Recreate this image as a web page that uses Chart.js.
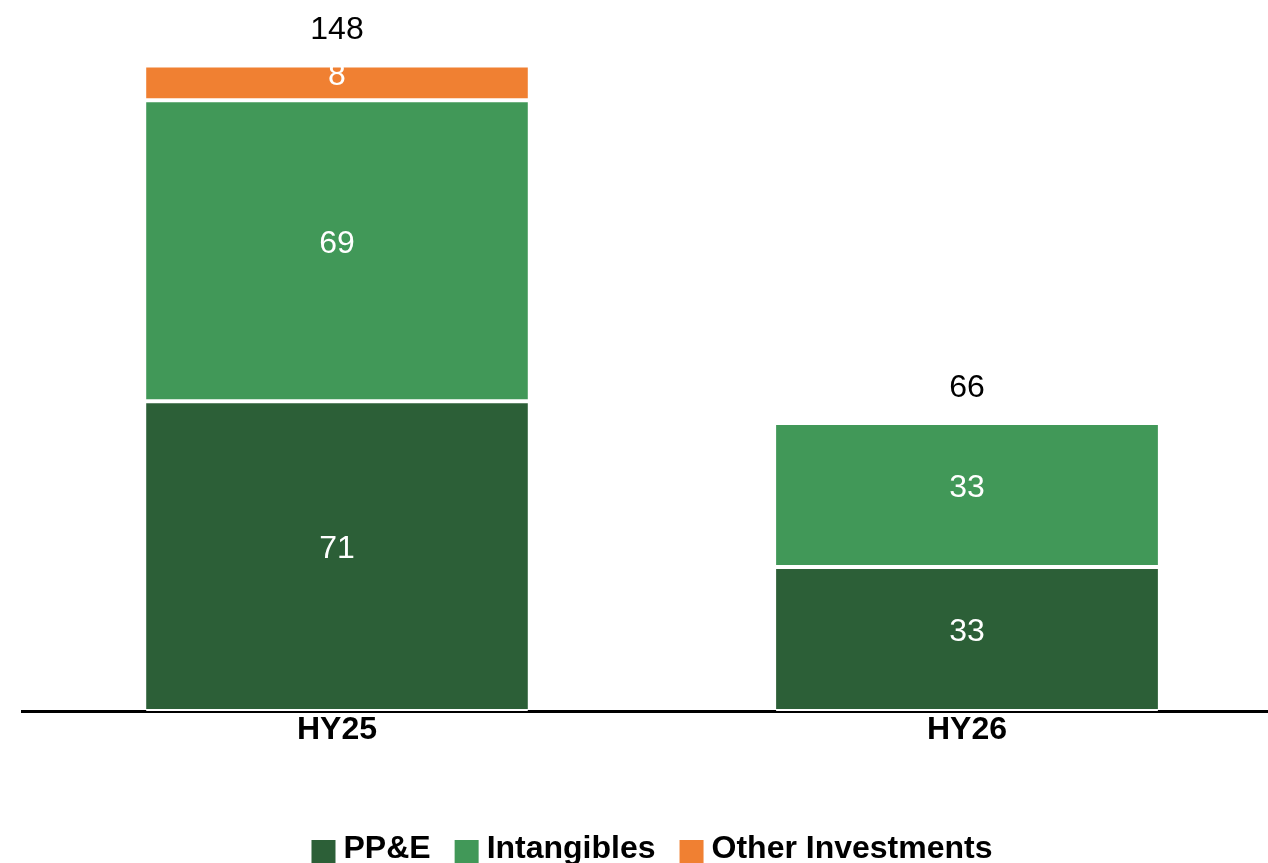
<!DOCTYPE html>
<html>
<head>
<meta charset="utf-8">
<script src="https://cdn.jsdelivr.net/npm/chart.js@4/dist/chart.umd.min.js"></script>
<style>
  html, body { margin: 0; padding: 0; background: #ffffff; overflow: hidden; }
  #wrap { width: 1268px; height: 863px; overflow: hidden; position: relative; }
  canvas { display: block; }
</style>
</head>
<body>
<div id="wrap"><canvas id="c" width="1282" height="863"></canvas></div>
<script>
const categories = ['HY25', 'HY26'];
const seriesNames = ['PP&E', 'Intangibles', 'Other Investments'];
const ppeValues = [71, 33];
const intangibleValues = [69, 33];
const otherValues = [8, 0];
const seriesColors = ['#2C5F37', '#419858', '#F08032'];

const FONT = '"Liberation Sans", Arial, Helvetica, sans-serif';

const labelPlugin = {
  id: 'labels',
  afterDatasetsDraw(chart) {
    const ctx = chart.ctx;
    const yScale = chart.scales.y;
    ctx.save();
    ctx.textAlign = 'center';
    ctx.textBaseline = 'alphabetic';
    ctx.font = '32px ' + FONT;
    chart.data.datasets.forEach((ds, di) => {
      const meta = chart.getDatasetMeta(di);
      meta.data.forEach((bar, i) => {
        const v = ds.data[i];
        if (!v) return;
        const cy = (bar.y + bar.base) / 2;
        ctx.fillStyle = '#ffffff';
        ctx.fillText(String(v), bar.x, cy + 2);
      });
    });
    const meta0 = chart.getDatasetMeta(0);
    chart.data.labels.forEach((lab, i) => {
      let total = 0;
      chart.data.datasets.forEach(ds => { total += ds.data[i]; });
      const top = yScale.getPixelForValue(total);
      ctx.fillStyle = '#000000';
      ctx.fillText(String(total), meta0.data[i].x, top - 26);
    });
    ctx.restore();
  },
  afterDraw(chart) {
    const ctx = chart.ctx;
    const area = chart.chartArea;
    ctx.save();
    ctx.font = 'bold 32px ' + FONT;
    ctx.textBaseline = 'alphabetic';
    ctx.textAlign = 'left';
    const box = 24, gap = 8, itemGap = 24;
    const widths = chart.data.datasets.map(ds => ctx.measureText(ds.label).width);
    let total = 0;
    widths.forEach((w, k) => { total += box + gap + w + (k < widths.length - 1 ? itemGap : 0); });
    let x = (area.left + area.right) / 2 - total / 2;
    chart.data.datasets.forEach((ds, k) => {
      ctx.fillStyle = ds.backgroundColor;
      ctx.fillRect(x, 840, box, 24);
      ctx.fillStyle = '#000000';
      ctx.fillText(ds.label, x + box + gap, 858);
      x += box + gap + widths[k] + itemGap;
    });
    ctx.restore();
  }
};

const seriesValues = [ppeValues, intangibleValues, otherValues];

new Chart(document.getElementById('c'), {
  type: 'bar',
  data: {
    labels: categories,
    datasets: seriesNames.map((name, k) => ({
      label: name,
      data: seriesValues[k],
      backgroundColor: seriesColors[k],
      borderColor: '#ffffff',
      borderWidth: { top: 2, bottom: 2, left: 0, right: 0 },
      borderSkipped: false,
      categoryPercentage: 1.0,
      barPercentage: 0.606
    }))
  },
  options: {
    responsive: false,
    animation: false,
    layout: { padding: { left: 22, right: 0, top: 0, bottom: 113.6 } },
    plugins: {
      legend: { display: false },
      tooltip: { enabled: false }
    },
    scales: {
      x: {
        stacked: true,
        grid: { display: false, drawTicks: false },
        border: { display: true, color: '#000000', width: 3 },
        ticks: { color: '#000000', padding: 0, font: { family: FONT, size: 32, weight: 'bold' } }
      },
      y: {
        stacked: true,
        display: false,
        min: 0,
        max: 163
      }
    }
  },
  plugins: [labelPlugin]
});
</script>
</body>
</html>
